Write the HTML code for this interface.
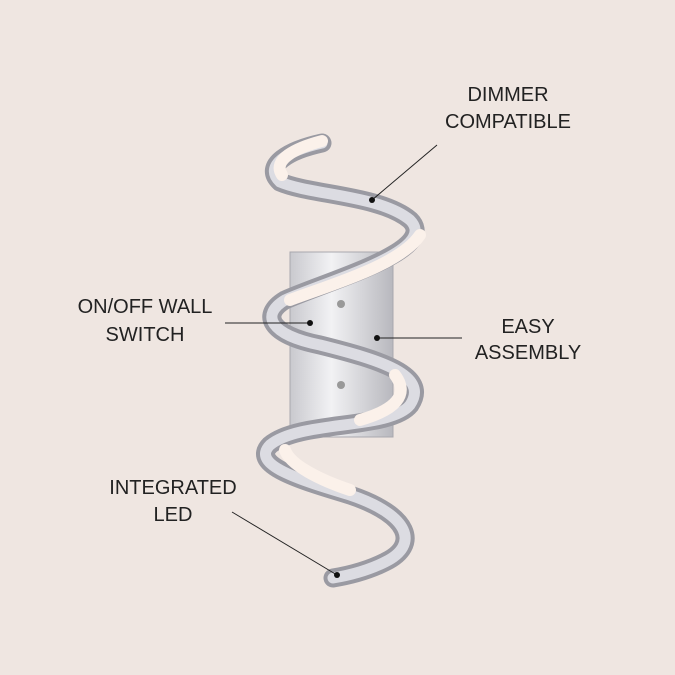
<!DOCTYPE html>
<html><head><style>
html,body{margin:0;padding:0;background:#efe6e1;}
svg{display:block}
text{font-family:"Liberation Sans",sans-serif;font-size:20px;fill:#222;text-anchor:middle}
</style></head><body>
<svg width="675" height="675" viewBox="0 0 675 675">
<defs>
<linearGradient id="pl" x1="0" y1="0" x2="1" y2="0">
<stop offset="0" stop-color="#c9c9ce"/><stop offset="0.4" stop-color="#f2f2f4"/><stop offset="1" stop-color="#b8b8be"/>
</linearGradient>
</defs>
<rect width="675" height="675" fill="#efe6e1"/>
<rect x="290" y="252" width="103" height="185" fill="url(#pl)" stroke="#a8a8ae" stroke-width="1"/>
<circle cx="341" cy="304" r="4" fill="#999"/>
<circle cx="341" cy="385" r="4" fill="#999"/>
<g fill="none" stroke-linecap="round">
<path d="M322 143 C290 150 262 165 280 182 C310 195 380 195 410 220 C440 250 330 280 285 300 C260 315 270 335 320 345 C380 360 430 375 410 405 C390 430 300 420 270 445 C250 465 300 480 350 495 C410 515 420 545 385 562 C365 572 345 576 333 578" stroke="#9a9aa2" stroke-width="19"/>
<path d="M322 143 C290 150 262 165 280 182 C310 195 380 195 410 220 C440 250 330 280 285 300 C260 315 270 335 320 345 C380 360 430 375 410 405 C390 430 300 420 270 445 C250 465 300 480 350 495 C410 515 420 545 385 562 C365 572 345 576 333 578" stroke="#dcdce2" stroke-width="11"/>
<path d="M322 141 C295 148 272 160 282 175 M420 235 C400 265 330 285 290 300 M395 375 C410 395 395 410 360 420 M285 450 C290 465 320 480 350 490" stroke="#fbf1ea" stroke-width="12"/>
</g>
<g stroke="#222" stroke-width="1">
<line x1="437" y1="145" x2="372" y2="200"/>
<line x1="225" y1="323" x2="310" y2="323"/>
<line x1="377" y1="338" x2="462" y2="338"/>
<line x1="232" y1="512" x2="337" y2="575"/>
</g>
<g fill="#111">
<circle cx="372" cy="200" r="3"/><circle cx="310" cy="323" r="3"/>
<circle cx="377" cy="338" r="3"/><circle cx="337" cy="575" r="3"/>
</g>
<text x="508" y="101">DIMMER</text><text x="508" y="128">COMPATIBLE</text>
<text x="145" y="313">ON/OFF WALL</text><text x="145" y="341">SWITCH</text>
<text x="528" y="333">EASY</text><text x="528" y="359">ASSEMBLY</text>
<text x="173" y="494">INTEGRATED</text><text x="173" y="521">LED</text>
</svg>
</body></html>
